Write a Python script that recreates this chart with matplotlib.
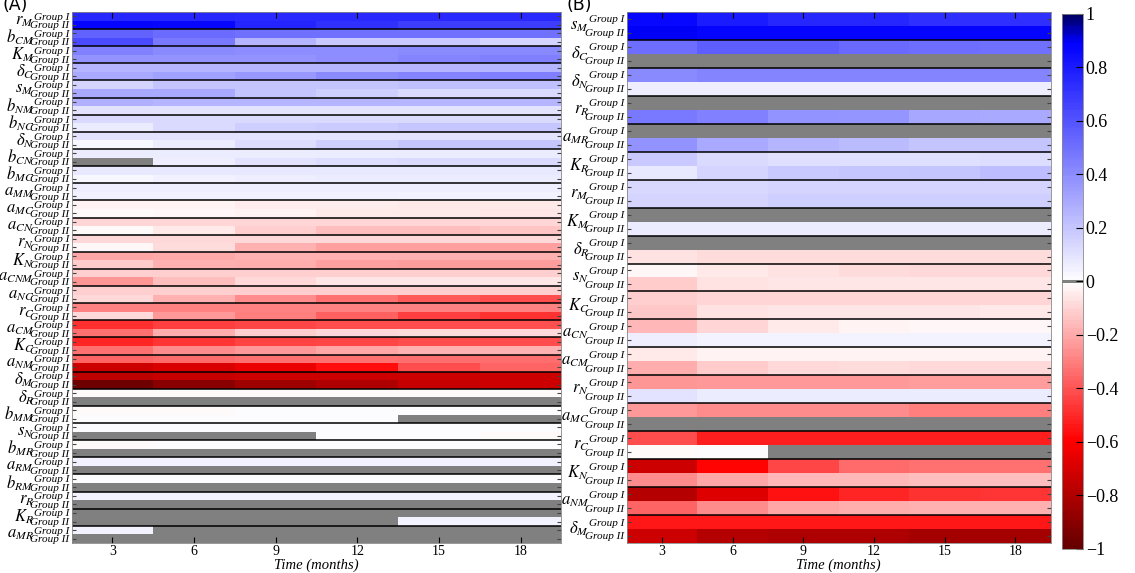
import numpy as np
import matplotlib
matplotlib.use('Agg')
import matplotlib.pyplot as plt
from matplotlib.colors import LinearSegmentedColormap, ListedColormap, Normalize

plt.rcParams['font.family'] = ['Liberation Serif', 'DejaVu Serif']
plt.rcParams['mathtext.fontset'] = 'stix'

months = [3, 6, 9, 12, 15, 18]
groups = ['Group I', 'Group II']
cb_ticks = [1, 0.8, 0.6, 0.4, 0.2, 0, -0.2, -0.4, -0.6, -0.8, -1]

# panel A: parameters top to bottom, 0 = grey (not significant)
params_a = [r'$r_M$', r'$b_{CM}$', r'$K_M$', r'$\delta_C$', r'$s_M$', r'$b_{NM}$',
            r'$b_{NC}$', r'$\delta_N$', r'$b_{CN}$', r'$b_{MC}$', r'$a_{MM}$',
            r'$a_{MC}$', r'$a_{CN}$', r'$r_N$', r'$K_N$', r'$a_{CNM}$', r'$a_{NC}$',
            r'$r_C$', r'$a_{CM}$', r'$K_C$', r'$a_{NM}$', r'$\delta_M$', r'$\delta_R$',
            r'$b_{MM}$', r'$s_N$', r'$b_{MR}$', r'$a_{RM}$', r'$b_{RM}$', r'$r_R$',
            r'$K_R$', r'$a_{MR}$']
a_group1 = [
    [0.76, 0.76, 0.75, 0.75, 0.75, 0.75],
    [0.55, 0.52, 0.50, 0.50, 0.50, 0.50],
    [0.44, 0.41, 0.40, 0.40, 0.41, 0.42],
    [0.26, 0.26, 0.26, 0.26, 0.26, 0.26],
    [0.15, 0.21, 0.21, 0.21, 0.22, 0.22],
    [0.28, 0.26, 0.26, 0.26, 0.26, 0.26],
    [0.13, 0.13, 0.13, 0.13, 0.13, 0.13],
    [0.10, 0.10, 0.10, 0.10, 0.10, 0.10],
    [0.07, 0.07, 0.07, 0.07, 0.07, 0.07],
    [0.08, 0.08, 0.08, 0.08, 0.08, 0.08],
    [0.06, 0.06, 0.06, 0.06, 0.06, 0.06],
    [-0.03, -0.03, -0.04, -0.04, -0.05, -0.05],
    [-0.10, -0.10, -0.10, -0.10, -0.10, -0.10],
    [-0.09, -0.09, -0.09, -0.09, -0.09, -0.09],
    [-0.21, -0.20, -0.18, -0.18, -0.18, -0.18],
    [-0.11, -0.11, -0.11, -0.11, -0.11, -0.11],
    [-0.11, -0.11, -0.11, -0.11, -0.11, -0.11],
    [-0.29, -0.29, -0.29, -0.29, -0.29, -0.29],
    [-0.49, -0.45, -0.43, -0.42, -0.42, -0.41],
    [-0.51, -0.47, -0.44, -0.43, -0.42, -0.42],
    [-0.36, -0.35, -0.33, -0.33, -0.34, -0.34],
    [-0.77, -0.75, -0.73, -0.73, -0.73, -0.73],
    [-0.01, -0.01, -0.01, -0.01, -0.01, -0.01],
    [-0.01, -0.01, 0.01, 0.01, 0.01, 0.01],
    [0.01, 0.01, 0.01, 0.01, 0.01, 0.01],
    [-0.01, 0.01, 0.01, 0.01, 0.01, 0.01],
    [0.05, 0.05, 0.05, 0.05, 0.05, 0.05],
    [0.01, 0.01, 0.01, 0.01, 0.01, 0.01],
    [0.04, 0.04, 0.04, 0.04, 0.04, 0.04],
    [0, 0, 0, 0, 0, 0],
    [0.04, 0, 0, 0, 0, 0],
]
a_group2 = [
    [0.88, 0.87, 0.77, 0.72, 0.68, 0.68],
    [0.64, 0.47, 0.26, 0.19, 0.19, 0.15],
    [0.38, 0.38, 0.38, 0.40, 0.43, 0.45],
    [0.30, 0.33, 0.36, 0.41, 0.43, 0.45],
    [0.30, 0.30, 0.21, 0.17, 0.13, 0.13],
    [0.10, 0.10, 0.10, 0.10, 0.10, 0.10],
    [0.07, 0.13, 0.17, 0.18, 0.20, 0.20],
    [0.03, 0.07, 0.12, 0.17, 0.20, 0.20],
    [0, 0.06, 0.10, 0.12, 0.13, 0.13],
    [0.03, 0.05, 0.06, 0.07, 0.07, 0.07],
    [0.05, 0.05, 0.05, 0.05, 0.04, 0.04],
    [-0.01, -0.02, -0.03, -0.05, -0.05, -0.06],
    [-0.01, -0.05, -0.11, -0.15, -0.15, -0.14],
    [-0.02, -0.08, -0.18, -0.22, -0.22, -0.22],
    [-0.12, -0.18, -0.19, -0.22, -0.23, -0.23],
    [-0.25, -0.15, -0.09, -0.06, -0.06, -0.06],
    [-0.09, -0.18, -0.27, -0.33, -0.39, -0.42],
    [-0.09, -0.24, -0.30, -0.37, -0.45, -0.48],
    [-0.33, -0.19, -0.11, -0.09, -0.08, -0.09],
    [-0.33, -0.27, -0.24, -0.21, -0.18, -0.18],
    [-0.73, -0.70, -0.65, -0.57, -0.42, -0.36],
    [-0.97, -0.90, -0.85, -0.81, -0.75, -0.73],
    [0, 0, 0, 0, 0, 0],
    [0.01, 0.01, 0.01, 0.01, 0, 0],
    [0, 0, 0, 0.01, 0.01, -0.01],
    [0, 0, 0, 0, 0, 0],
    [0, 0, 0, 0, 0, 0],
    [0, 0, 0, 0, 0, 0],
    [0, 0, 0, 0, 0, 0],
    [0, 0, 0, 0, 0.04, 0.04],
    [0, 0, 0, 0, 0, 0],
]

# panel B
params_b = [r'$s_M$', r'$\delta_C$', r'$\delta_N$', r'$r_R$', r'$a_{MR}$', r'$K_R$',
            r'$r_M$', r'$K_M$', r'$\delta_R$', r'$s_N$', r'$K_C$', r'$a_{CN}$',
            r'$a_{CM}$', r'$r_N$', r'$a_{MC}$', r'$r_C$', r'$K_N$', r'$a_{NM}$',
            r'$\delta_M$']
b_group1 = [
    [0.87, 0.80, 0.76, 0.76, 0.73, 0.73],
    [0.51, 0.57, 0.57, 0.53, 0.51, 0.50],
    [0.41, 0.43, 0.43, 0.43, 0.43, 0.43],
    [0, 0, 0, 0, 0, 0],
    [0, 0, 0, 0, 0, 0],
    [0.19, 0.13, 0.11, 0.11, 0.11, 0.12],
    [0.14, 0.14, 0.15, 0.15, 0.15, 0.15],
    [0, 0, 0, 0, 0, 0],
    [0, 0, 0, 0, 0, 0],
    [-0.02, -0.05, -0.07, -0.08, -0.09, -0.09],
    [-0.11, -0.10, -0.10, -0.10, -0.10, -0.10],
    [-0.17, -0.10, -0.05, -0.03, -0.02, -0.02],
    [-0.05, -0.03, -0.03, -0.03, -0.03, -0.03],
    [-0.25, -0.24, -0.24, -0.24, -0.23, -0.23],
    [-0.24, -0.27, -0.27, -0.27, -0.30, -0.30],
    [-0.42, -0.53, -0.53, -0.53, -0.53, -0.53],
    [-0.73, -0.59, -0.43, -0.35, -0.33, -0.33],
    [-0.79, -0.68, -0.56, -0.51, -0.48, -0.47],
    [-0.54, -0.54, -0.54, -0.54, -0.54, -0.54],
]
b_group2 = [
    [0.90, 0.88, 0.88, 0.88, 0.88, 0.88],
    [0, 0, 0, 0, 0, 0],
    [0.06, 0.06, 0.06, 0.06, 0.06, 0.06],
    [0.47, 0.44, 0.38, 0.37, 0.31, 0.30],
    [0.38, 0.30, 0.26, 0.24, 0.21, 0.21],
    [0.08, 0.15, 0.19, 0.20, 0.21, 0.23],
    [0.15, 0.15, 0.17, 0.17, 0.17, 0.17],
    [0.07, 0.07, 0.07, 0.07, 0.07, 0.07],
    [-0.07, -0.08, -0.08, -0.08, -0.08, -0.08],
    [-0.12, -0.07, -0.06, -0.06, -0.06, -0.06],
    [-0.13, -0.07, -0.06, -0.06, -0.06, -0.05],
    [0.06, 0.04, 0.04, 0.04, 0.04, 0.04],
    [-0.19, -0.12, -0.09, -0.08, -0.09, -0.09],
    [0.10, 0.07, 0.07, 0.07, 0.07, 0.07],
    [0, 0, 0, 0, 0, 0],
    [-0.01, 0.01, 0, 0, 0, 0],
    [-0.27, -0.21, -0.17, -0.17, -0.15, -0.15],
    [-0.36, -0.27, -0.21, -0.19, -0.18, -0.18],
    [-0.73, -0.79, -0.81, -0.81, -0.83, -0.83],
]

# red - white - blue map, grey sliver exactly at 0
base = LinearSegmentedColormap.from_list(
    'rwb', [(0.0, (0.4, 0, 0)), (0.2, (1, 0, 0)), (0.5, (1, 1, 1)),
            (0.95, (0, 0, 1)), (1.0, (0, 0, 0.4))])
nbin = 201
cols = base(np.linspace(0, 1, nbin))
cols[nbin // 2] = (0.5, 0.5, 0.5, 1)
cmap = ListedColormap(cols)
norm = Normalize(-1, 1)

fig = plt.figure(figsize=(11.35, 5.73), dpi=100)
ax_a = fig.add_axes([0.063, 0.0524, 0.4317, 0.9267])
ax_b = fig.add_axes([0.552, 0.0524, 0.3736, 0.9267])
cax = fig.add_axes([0.9357, 0.0419, 0.0185, 0.9337])


def draw_panel(ax, params, g1, g2):
    vals = np.empty((2 * len(params), len(months)))
    vals[0::2] = g1
    vals[1::2] = g2
    t = np.array(months, float)
    step = t[1] - t[0]
    xe = np.append(t - step / 2, t[-1] + step / 2)
    ye = np.arange(vals.shape[0] + 1) - 0.5
    m = ax.pcolormesh(xe, ye, vals, cmap=cmap, norm=norm, edgecolors='none')
    ax.set_xlim(xe[0], xe[-1])
    ax.set_ylim(vals.shape[0] - 0.5, -0.5)
    for k in range(1, len(params)):
        ax.axhline(2 * k - 0.5, color='k', lw=1.1)
    ax.set_yticks(np.arange(vals.shape[0]))
    ax.set_yticklabels(groups * len(params), fontsize=8, style='italic')
    ax.set_xticks(months)
    ax.tick_params(axis='x', direction='in', top=True, length=4, labelsize=10, pad=1.5)
    ax.tick_params(axis='y', direction='in', right=True, length=3, pad=1.5,
                   color='#444444')
    ax.set_xlabel('Time (months)', fontsize=10.5, style='italic', labelpad=0)
    for s in ax.spines.values():
        s.set_color('#888888')
        s.set_linewidth(0.6)
    for k, p in enumerate(params):
        ax.annotate(p, xy=(0, 2 * k + 0.5), xycoords=('axes fraction', 'data'),
                    xytext=(-27, 0), textcoords='offset points',
                    ha='right', va='center', fontsize=12)
    return m


m = draw_panel(ax_a, params_a, a_group1, a_group2)
draw_panel(ax_b, params_b, b_group1, b_group2)

cb = fig.colorbar(m, cax=cax, ticks=cb_ticks)
cb.ax.set_yticklabels(['{:g}'.format(v).replace('-', '\u2212') for v in cb_ticks],
                      family=['Liberation Serif', 'DejaVu Serif'])
cb.ax.tick_params(direction='in', length=5, labelsize=13, pad=2)
cb.outline.set_edgecolor('#888888')
cb.outline.set_linewidth(0.6)

fig.text(0.002, 0.982, '(A)', family='DejaVu Sans', fontsize=12.5)
fig.text(0.4987, 0.982, '(B)', family='DejaVu Sans', fontsize=12.5)

fig.savefig('out.png', dpi=100)
